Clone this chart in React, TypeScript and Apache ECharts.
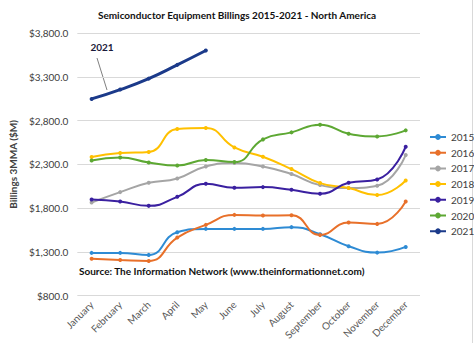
import React, { useEffect, useRef } from "react";
import * as echarts from "echarts";

const months = ["January","February","March","April","May","June","July","August","September","October","November","December"];
const s2015 = [1289, 1289, 1266, 1525, 1563, 1563, 1563, 1583, 1502, 1365, 1292, 1357];
const s2016 = [1223, 1208, 1197, 1464, 1609, 1723, 1715, 1719, 1494, 1635, 1620, 1876];
const s2017 = [1864, 1983, 2089, 2139, 2276, 2315, 2276, 2189, 2063, 2029, 2055, 2406];
const s2018 = [2383, 2429, 2441, 2704, 2715, 2493, 2387, 2246, 2086, 2029, 1949, 2116];
const s2019 = [1898, 1876, 1826, 1929, 2078, 2032, 2040, 2009, 1964, 2089, 2127, 2501];
const s2020 = [2345, 2379, 2322, 2287, 2349, 2326, 2585, 2665, 2753, 2650, 2619, 2688];
const s2021 = [3047, 3154, 3279, 3436, 3600];
const yTicks = { min: 800, max: 3800, interval: 500 };

const seriesDefs = [
  { name: "2015", data: s2015, color: "#2E8BD4", width: 2 },
  { name: "2016", data: s2016, color: "#E8702A", width: 2 },
  { name: "2017", data: s2017, color: "#A5A5A5", width: 2 },
  { name: "2018", data: s2018, color: "#FFC000", width: 2 },
  { name: "2019", data: s2019, color: "#3A20A0", width: 2 },
  { name: "2020", data: s2020, color: "#5DA833", width: 2 },
  { name: "2021", data: s2021, color: "#1B3A8A", width: 3 },
];

const FONT = "Lato, 'Open Sans', sans-serif";

export default function App() {
  const ref = useRef<HTMLDivElement>(null);
  useEffect(() => {
    if (!ref.current) return;
    const chart = echarts.init(ref.current, null, { renderer: "svg" });
    chart.setOption({
      animation: false,
      backgroundColor: "#ffffff",
      textStyle: { fontFamily: FONT },
      title: {
        text: "Semiconductor Equipment Billings 2015-2021 - North America",
        left: "center",
        top: 5,
        textStyle: { fontSize: 10, fontWeight: "bold", color: "#111", fontFamily: FONT },
      },
      legend: {
        orient: "vertical",
        left: 425,
        top: 127,
        itemWidth: 16,
        itemHeight: 10,
        itemGap: 5.7,
        icon: "path://M0,4 L16,4 L16,6 L0,6 Z M6,3 A2,2 0 1 1 10,7 A2,2 0 1 1 6,3 Z",
        textStyle: { fontSize: 10, color: "#404040", fontFamily: FONT },
        data: seriesDefs.map((s) => s.name),
      },
      grid: { left: 72, right: 54, top: 33, bottom: 47.3 },
      xAxis: {
        type: "category",
        data: months,
        boundaryGap: true,
        axisLine: { show: false },
        axisTick: { show: false },
        axisLabel: { rotate: 45, fontSize: 10, color: "#595959", interval: 0, margin: 7, fontFamily: FONT },
      },
      yAxis: {
        type: "value",
        min: yTicks.min,
        max: yTicks.max,
        interval: yTicks.interval,
        name: "Billings 3MMA ($M)",
        nameLocation: "middle",
        nameGap: 52,
        nameTextStyle: { fontSize: 10, fontWeight: "bold", color: "#404040", fontFamily: FONT },
        axisLine: { show: false },
        axisTick: { show: false },
        splitLine: { lineStyle: { color: "#D9D9D9", width: 1 } },
        axisLabel: {
          fontSize: 10,
          color: "#404040",
          margin: 9,
          fontFamily: FONT,
          formatter: (v: number) => "$" + v.toLocaleString("en-US") + ".0",
        },
      },
      series: seriesDefs.map((s) => ({
        name: s.name,
        type: "line",
        data: s.data,
        smooth: true,
        symbol: "circle",
        symbolSize: 4,
        itemStyle: { color: s.color },
        lineStyle: { color: s.color, width: s.width },
        z: s.name === "2021" ? 5 : 2,
      })),
      graphic: [
        {
          type: "text",
          left: 79,
          top: 266,
          style: {
            text: "Source: The Information Network (www.theinformationnet.com)",
            font: "bold 10px " + FONT,
            fill: "#111",
          },
        },
        {
          type: "text",
          x: 102,
          y: 47,
          style: {
            text: "2021",
            font: "bold 10px " + FONT,
            fill: "#1a1a3a",
            align: "center",
            verticalAlign: "middle",
          },
        },
        {
          type: "line",
          shape: { x1: 97, y1: 58, x2: 107, y2: 90 },
          style: { stroke: "#808080", lineWidth: 1 },
        },
        {
          type: "line",
          shape: { x1: 472.5, y1: 0, x2: 472.5, y2: 343 },
          style: { stroke: "#D9D9D9", lineWidth: 1 },
        },
      ],
    });
    return () => chart.dispose();
  }, []);
  return <div ref={ref} style={{ width: 474, height: 343, position: "absolute", left: 0, top: 0 }} />;
}
